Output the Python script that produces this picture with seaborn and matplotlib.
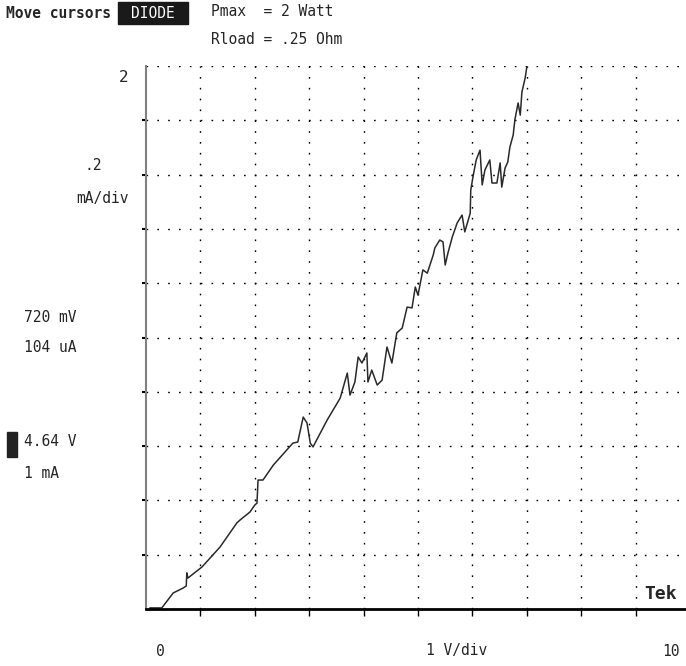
import matplotlib
matplotlib.use("Agg")
import matplotlib.pyplot as plt
import seaborn as sns
import pandas as pd
from matplotlib.patches import Rectangle

# trace: volts (1 V/div) and mA (.2 mA/div)
volts = [0.07, 0.29, 0.50, 0.68, 0.74, 0.75, 0.77, 1.03, 1.36, 1.67, 1.73, 1.91, 2.00,
         2.04, 2.06, 2.15, 2.34, 2.70, 2.79, 2.89, 2.96, 3.02, 3.07, 3.33, 3.57, 3.70,
         3.75, 3.84, 3.90, 3.97, 4.06, 4.08, 4.15, 4.25, 4.34, 4.43, 4.52, 4.61, 4.71,
         4.80, 4.89, 4.95, 5.00, 5.09, 5.17, 5.28, 5.31, 5.40, 5.46, 5.50, 5.55, 5.63,
         5.72, 5.81, 5.86, 5.96, 5.97, 6.01, 6.07, 6.14, 6.18, 6.23, 6.32, 6.36, 6.45,
         6.51, 6.54, 6.60, 6.65, 6.69, 6.75, 6.78, 6.84, 6.88, 6.91, 6.97, 7.00]
milliamps = [0.004, 0.004, 0.059, 0.077, 0.085, 0.133, 0.114, 0.155, 0.228, 0.317, 0.328,
             0.357, 0.383, 0.390, 0.475, 0.475, 0.530, 0.611, 0.615, 0.707, 0.685, 0.611,
             0.597, 0.696, 0.777, 0.869, 0.788, 0.836, 0.928, 0.906, 0.943, 0.836, 0.880,
             0.825, 0.843, 0.965, 0.906, 1.017, 1.035, 1.112, 1.109, 1.186, 1.156, 1.249,
             1.237, 1.304, 1.330, 1.359, 1.352, 1.267, 1.311, 1.370, 1.422, 1.451, 1.389,
             1.458, 1.543, 1.591, 1.654, 1.690, 1.562, 1.617, 1.654, 1.569, 1.569, 1.643,
             1.554, 1.624, 1.646, 1.702, 1.746, 1.801, 1.864, 1.819, 1.904, 1.956, 1.996]

trace = pd.DataFrame({"V": volts, "mA": milliamps})

W, H = 686, 666
mono = "DejaVu Sans Mono"

sns.set_style("white")
plt.rcParams['font.family'] = [mono, 'DejaVu Sans']

fig = plt.figure(figsize=(W / 100, H / 100), dpi=100)
# screen area: 146..686 px wide, 66..609 px tall
ax = fig.add_axes([146 / W, (H - 609) / H, 540 / W, 543 / H])

sns.lineplot(data=trace, x="V", y="mA", sort=False, estimator=None,
             color="#2a2a2a", lw=1.1, ax=ax)

ax.set_xlim(0, 540 / 54.4)
ax.set_ylim(0, 2.0)
ax.set_xticks(range(1, 10))
ax.set_yticks([0.2 * i for i in range(1, 10)])
ax.set_xticklabels([])
ax.set_yticklabels([])
ax.set_xlabel("")
ax.set_ylabel("")

# dotted graticule
dots = (0, (1.2, 6.6))
for xv in range(1, 10):
    ax.axvline(xv, color="black", lw=1, linestyle=dots, zorder=0)
for i in range(1, 11):
    ax.axhline(0.2 * i, color="black", lw=1, linestyle=dots, zorder=0)

for s in ["top", "right"]:
    ax.spines[s].set_visible(False)
ax.spines["left"].set_color("#808080")
ax.spines["left"].set_linewidth(1.5)
ax.spines["bottom"].set_color("black")
ax.spines["bottom"].set_linewidth(2)
ax.tick_params(axis="y", direction="out", length=3, width=1.5, color="black", left=True)
ax.tick_params(axis="x", direction="out", length=5, width=1, color="black", bottom=True)


def put(x, y, s, **kw):
    kw.setdefault("fontsize", 10.5)
    kw.setdefault("va", "center")
    fig.text(x / W, 1 - y / H, s, **kw)


put(6, 13, "Move cursors", fontweight="bold")
fig.patches.append(Rectangle((118 / W, 1 - 24 / H), 70 / W, 22 / H,
                             transform=fig.transFigure, color="#1a1a1a"))
put(153, 13, "DIODE", color="white", ha="center")
put(211, 12, "Pmax  = 2 Watt")
put(211, 40, "Rload = .25 Ohm")

put(129, 77, "2", ha="right", fontsize=11.5)
put(102, 165, ".2", ha="right")
put(129, 198, "mA/div", ha="right")
put(24, 317, "720 mV")
put(24, 348, "104 uA")
fig.patches.append(Rectangle((7 / W, 1 - 457 / H), 10 / W, 25 / H,
                             transform=fig.transFigure, color="#222222"))
put(24, 441, "4.64 V")
put(24, 473, "1 mA")

put(677, 594, "Tek", ha="right", fontweight="bold", fontsize=13)
put(160, 651, "0", ha="center")
put(457, 651, "1 V/div", ha="center")
put(671, 651, "10", ha="center")

fig.savefig("out.png", dpi=100)
